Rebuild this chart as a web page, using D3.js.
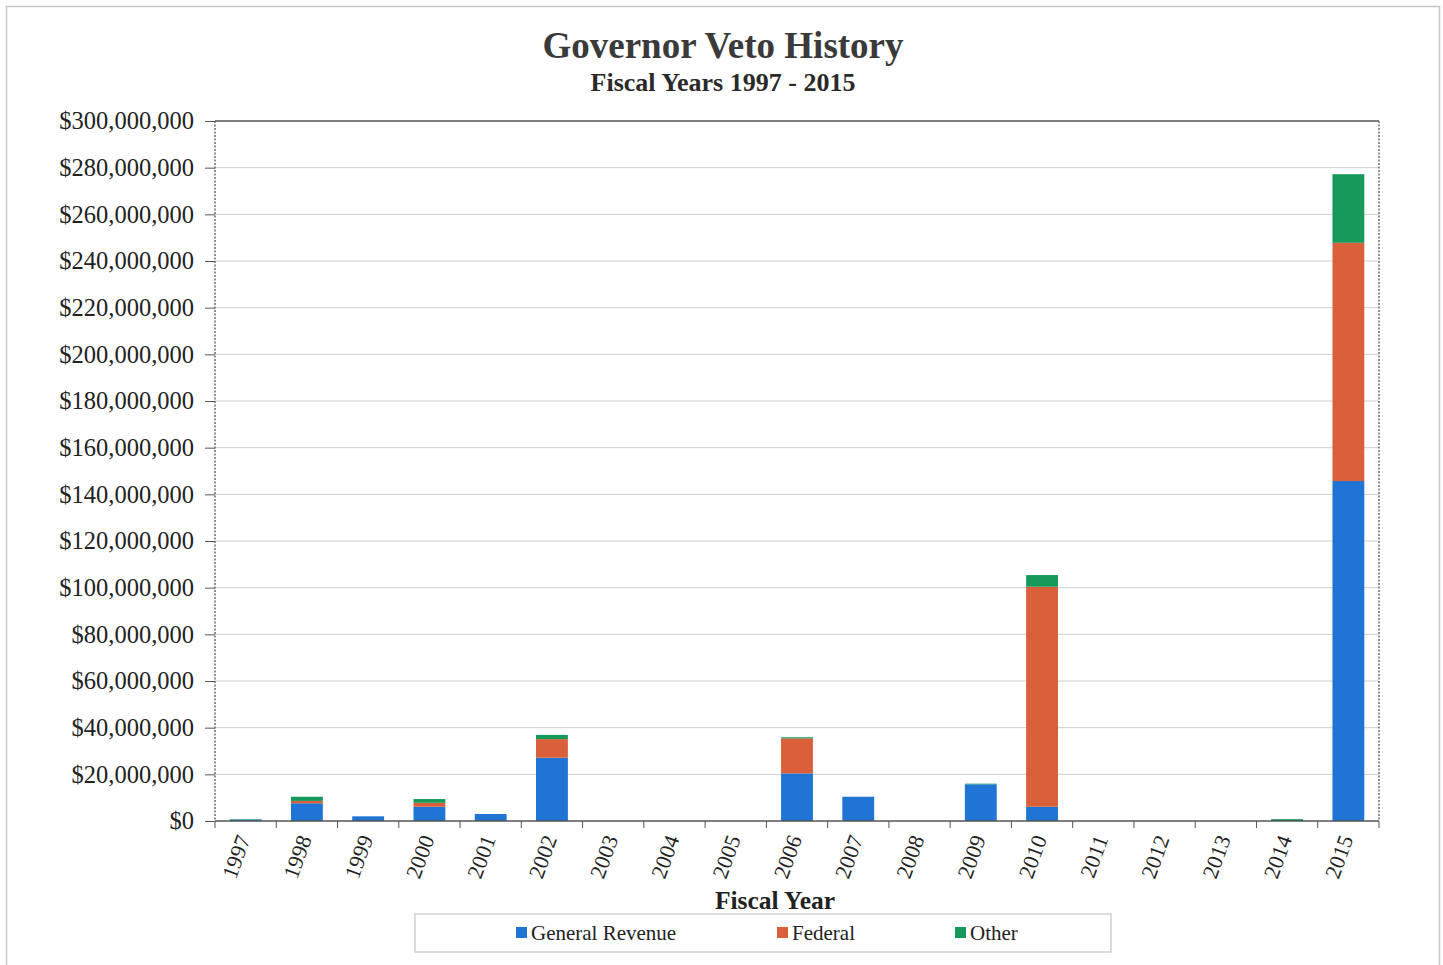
<!DOCTYPE html>
<html>
<head>
<meta charset="utf-8">
<script src="https://cdn.jsdelivr.net/npm/d3@7"></script>
<style>
  body { margin: 0; background: #fff; }
  text { font-family: "Liberation Serif", "Times New Roman", serif; }
</style>
</head>
<body>
<div class="grafico"></div>
<script>
// data (dollars, millions)
var years = ["1997","1998","1999","2000","2001","2002","2003","2004","2005","2006",
             "2007","2008","2009","2010","2011","2012","2013","2014","2015"];
var generalRevenue = [0.6, 7.6, 2.0, 6.1, 3.0, 27.1, 0, 0, 0, 20.4, 10.4, 0, 15.7, 6.1, 0, 0, 0, 0, 145.7];
var federal        = [0,   1.0, 0,   1.7, 0,   8.0,  0, 0, 0, 15.0, 0,    0, 0,    94.3, 0, 0, 0, 0, 102.1];
var other          = [0.2, 1.8, 0,   1.6, 0,   1.8,  0, 0, 0, 0.5,  0,    0, 0.3,  5.0,  0, 0, 0, 0.8, 29.4];
var seriesNames = ["General Revenue", "Federal", "Other"];
var yTicks = d3.range(0, 301, 20);

var W = 1443, H = 965;
var margin = { top: 121, right: 64, bottom: 144, left: 215 };
var width = W - margin.left - margin.right,
    height = H - margin.top - margin.bottom;

var svg = d3.select(".grafico").append("svg")
  .attr("width", W).attr("height", H);

// outer frame
svg.append("rect")
  .attr("x", 6.5).attr("y", 6.5).attr("width", 1433).attr("height", 980)
  .attr("fill", "none").attr("stroke", "#c8c8c8").attr("stroke-width", 1.5);

var g = svg.append("g")
  .attr("transform", "translate(" + margin.left + "," + margin.top + ")");

var x = d3.scaleBand().domain(years).range([0, width]).paddingInner(0.48).paddingOuter(0.24),
    y = d3.scaleLinear().domain([0, 300]).range([height, 0]),
    z = d3.scaleOrdinal().domain(seriesNames).range(["#1f74d4", "#d9603a", "#17995b"]);

// gridlines
g.append("g").selectAll("line").data(yTicks.slice(1)).enter().append("line")
  .attr("x1", 0).attr("x2", width)
  .attr("y1", d => y(d)).attr("y2", d => y(d))
  .attr("stroke", d => d === 300 ? "#555" : "#cfcfcf")
  .attr("stroke-width", d => d === 300 ? 1.3 : 1);

// dotted plot borders left/right
[0, width].forEach(function (xx) {
  g.append("line").attr("x1", xx).attr("x2", xx).attr("y1", 0).attr("y2", height)
    .attr("stroke", "#555").attr("stroke-width", 1.3).attr("stroke-dasharray", "2,1.5");
});

// stacked bars
var table = years.map(function (yr, i) {
  return { year: yr, "General Revenue": generalRevenue[i], "Federal": federal[i], "Other": other[i] };
});
var stack = d3.stack().keys(seriesNames)(table);

g.selectAll(".serie").data(stack).enter().append("g")
  .attr("fill", d => z(d.key))
  .selectAll("rect").data(d => d).enter().append("rect")
  .attr("x", d => x(d.data.year))
  .attr("width", x.bandwidth())
  .attr("y", d => y(d[1]))
  .attr("height", d => y(d[0]) - y(d[1]));

// y axis
var yAxis = g.append("g")
  .call(d3.axisLeft(y).tickValues(yTicks).tickSize(10).tickPadding(11)
    .tickFormat(d => "$" + d3.format(",")(d * 1e6)));
yAxis.select(".domain").remove();
yAxis.selectAll("line").attr("stroke", "#555");
yAxis.selectAll("text").attr("font-size", 24.5).attr("fill", "#222")
  .style("font-family", "'Liberation Serif', serif");

// x axis
var xAxisG = g.append("g").attr("transform", "translate(0," + height + ")");
xAxisG.append("line").attr("x1", 0).attr("x2", width).attr("stroke", "#555").attr("stroke-width", 1.5);
var step = x.step();
xAxisG.selectAll(".xt").data(d3.range(years.length + 1)).enter().append("line")
  .attr("x1", i => i * step).attr("x2", i => i * step)
  .attr("y1", 0).attr("y2", 7).attr("stroke", "#555");
xAxisG.selectAll(".xl").data(years).enter().append("text")
  .attr("transform", d => "translate(" + (x(d) + x.bandwidth() / 2 - 2) + ",15) rotate(-70)")
  .attr("text-anchor", "end").attr("dy", "0.35em")
  .attr("font-size", 22).attr("fill", "#222")
  .text(d => d);

// titles
svg.append("text").attr("x", 723).attr("y", 58).attr("text-anchor", "middle")
  .attr("font-size", 37).attr("font-weight", "bold").attr("fill", "#3a3a3a")
  .text("Governor Veto History");
svg.append("text").attr("x", 723).attr("y", 91).attr("text-anchor", "middle")
  .attr("font-size", 26).attr("font-weight", "bold").attr("fill", "#2a2a2a")
  .text("Fiscal Years 1997 - 2015");
svg.append("text").attr("x", 775).attr("y", 909).attr("text-anchor", "middle")
  .attr("font-size", 25.5).attr("font-weight", "bold").attr("fill", "#222")
  .text("Fiscal Year");

// legend
svg.append("rect").attr("x", 415).attr("y", 914).attr("width", 696).attr("height", 38)
  .attr("fill", "#fff").attr("stroke", "#c8c8c8").attr("stroke-width", 1.3);
var legX = [516, 777, 955];
var leg = svg.selectAll(".leg").data(seriesNames).enter().append("g")
  .attr("transform", (d, i) => "translate(" + legX[i] + ",933)");
leg.append("rect").attr("x", 0).attr("y", -6).attr("width", 11).attr("height", 11).attr("fill", d => z(d));
leg.append("text").attr("x", 15).attr("y", 0).attr("dy", "0.35em")
  .attr("font-size", 21).attr("fill", "#222").text(d => d);
</script>
</body>
</html>
